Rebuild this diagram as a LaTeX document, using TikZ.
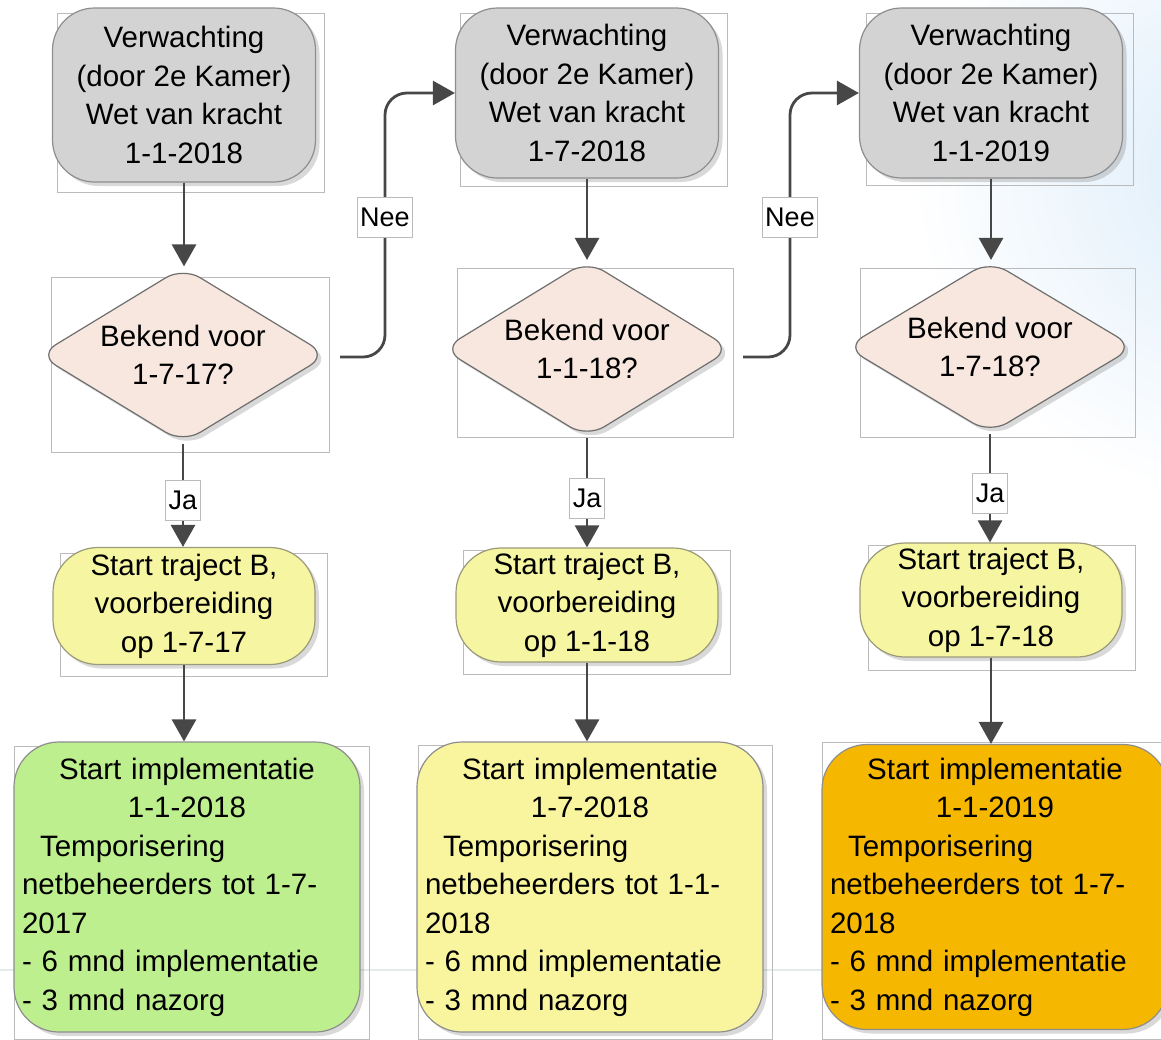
\documentclass[tikz,border=0pt]{standalone}
\usepackage{fontspec}
\setmainfont{Liberation Sans}
\usetikzlibrary{shapes.geometric,arrows.meta,shadows}
\definecolor{boxgray}{HTML}{D3D3D3}
\definecolor{graybord}{HTML}{8E8E8E}
\definecolor{diafill}{HTML}{F7E7DF}
\definecolor{diabord}{HTML}{6E6E6E}
\definecolor{yelfill}{HTML}{F6F5A2}
\definecolor{yelbord}{HTML}{9A9A7A}
\definecolor{grnfill}{HTML}{BEEF8E}
\definecolor{ylwfill}{HTML}{F8F59E}
\definecolor{orgfill}{HTML}{F6B700}
\definecolor{framegray}{HTML}{BBBBBB}
\definecolor{arrowgray}{HTML}{474747}
\definecolor{glowblue}{HTML}{DDEDFA}
\definecolor{faintline}{HTML}{E2ECE8}
\newcommand\dfont{\fontsize{29.5}{38.5}\selectfont}
\newcommand\lfont{\fontsize{27}{30}\selectfont}
\begin{document}
\begin{tikzpicture}[x=1pt,y=-1pt,
 frame/.style={draw=framegray, line width=0.8pt},
 shad/.style={drop shadow={shadow xshift=4pt, shadow yshift=-4pt, opacity=0.25, fill=black!60}},
 gbox/.style={rectangle, rounded corners=42pt, draw=graybord, fill=boxgray, line width=1.2pt, minimum width=263pt, align=center, font=\dfont, inner sep=0pt, shad},
 dbox/.style={diamond, rounded corners=20pt, draw=diabord, fill=diafill, line width=1.2pt, minimum width=289pt, aspect=1.6, inner sep=0pt, align=center, font=\dfont, shad},
 ybox/.style={rectangle, rounded corners=45pt, draw=yelbord, fill=yelfill, line width=1.2pt, minimum width=262pt, align=center, font=\dfont, inner sep=0pt, shad},
 ibox/.style={rectangle, rounded corners=45pt, draw=graybord, line width=1.2pt, minimum width=346pt, text width=330pt, align=left, font=\dfont, inner xsep=8pt, inner ysep=0pt, shad},
 conn/.style={draw=arrowgray, line width=2.8pt, -{Triangle[length=22pt,width=24pt]}},
 lbl/.style={sharp corners, fill=white, draw=framegray, line width=0.6pt, inner xsep=3pt, inner ysep=0pt, minimum height=40pt, font=\lfont, text=black},
]
\useasboundingbox (0,0) rectangle (1161,1039);
\begin{scope}
\clip (0,0) rectangle (1161,1039);
\shade[inner color=glowblue, outer color=white] (1240,170) circle (330);
\draw[faintline, line width=1.5pt] (0,970) -- (1161,970);
\end{scope}

% frames
\draw[frame] (57,13) rectangle (324,192);
\draw[frame] (460,13) rectangle (727,186);
\draw[frame] (866,13) rectangle (1133,185);
\draw[frame] (51,277) rectangle (329,452);
\draw[frame] (457,268) rectangle (733,437);
\draw[frame] (860,268) rectangle (1135,437);
\draw[frame] (60,553) rectangle (327,676);
\draw[frame] (463,550) rectangle (730,674);
\draw[frame] (868,545) rectangle (1135,670);
\draw[frame] (14,746) rectangle (369,1039);
\draw[frame] (418,745) rectangle (772,1039);
\draw[frame] (822,742) rectangle (1161,1039);

% column 1
\node[gbox, minimum height=174pt] (g1) at (184,95) {Verwachting\\(door 2e Kamer)\\Wet van kracht\\1-1-2018};
\node[dbox, minimum height=176pt] (d1) at (183,355) {Bekend voor\\1-7-17?};
\node[ybox, minimum height=117pt] (y1) at (184,606) {Start traject B,\\voorbereiding\\op 1-7-17};
\node[ibox, fill=grnfill, minimum height=290pt] (i1) at (187,887) {{\centering Start implementatie\\1-1-2018\par}\hspace*{18pt}Temporisering\\netbeheerders tot 1-7-\\2017\\- 6 mnd implementatie\\- 3 mnd nazorg};

% column 2
\node[gbox, minimum height=170pt] (g2) at (587,93) {Verwachting\\(door 2e Kamer)\\Wet van kracht\\1-7-2018};
\node[dbox, minimum height=177pt] (d2) at (587,349) {Bekend voor\\1-1-18?};
\node[ybox, minimum height=114pt] (y2) at (587,605) {Start traject B,\\voorbereiding\\op 1-1-18};
\node[ibox, fill=ylwfill, minimum height=290pt] (i2) at (590,887) {{\centering Start implementatie\\1-7-2018\par}\hspace*{18pt}Temporisering\\netbeheerders tot 1-1-\\2018\\- 6 mnd implementatie\\- 3 mnd nazorg};

% column 3
\node[gbox, minimum height=170pt] (g3) at (991,93) {Verwachting\\(door 2e Kamer)\\Wet van kracht\\1-1-2019};
\node[dbox, minimum height=173pt] (d3) at (990,347) {Bekend voor\\1-7-18?};
\node[ybox, minimum height=114pt] (y3) at (991,600) {Start traject B,\\voorbereiding\\op 1-7-18};
\node[ibox, fill=orgfill, minimum height=285pt] (i3) at (995,887) {{\centering Start implementatie\\1-1-2019\par}\hspace*{18pt}Temporisering\\netbeheerders tot 1-7-\\2018\\- 6 mnd implementatie\\- 3 mnd nazorg};

% vertical connectors
\draw[conn] (g1.south) -- (g1.south |- d1.north);
\draw[conn] (d1) -- node[lbl, pos=0.55] {Ja} (d1 |- y1.north);
\draw[conn] (y1.south) -- (y1.south |- i1.north);
\draw[conn] (g2) -- (d2);
\draw[conn] (d2) -- node[lbl, pos=0.55] {Ja} (y2);
\draw[conn] (y2.south) -- (y2.south |- i2.north);
\draw[conn] (g3.south) -- (g3.south |- d3.north);
\draw[conn] (d3) -- node[lbl, pos=0.55] {Ja} (d3 |- y3.north);
\draw[conn] (y3.south) -- (y3.south |- i3.north);

% Nee connectors
\coordinate (c1) at (385,357);
\coordinate (c2) at (790,357);
\draw[conn, rounded corners=22pt, shorten <=12pt] (d1.east |- c1) -- (c1) |- node[lbl, pos=0.265] {Nee} (g2.west);
\draw[conn, rounded corners=22pt, shorten <=11pt] (d2.east |- c2) -- (c2) |- node[lbl, pos=0.265] {Nee} (g3.west);
\end{tikzpicture}
\end{document}
